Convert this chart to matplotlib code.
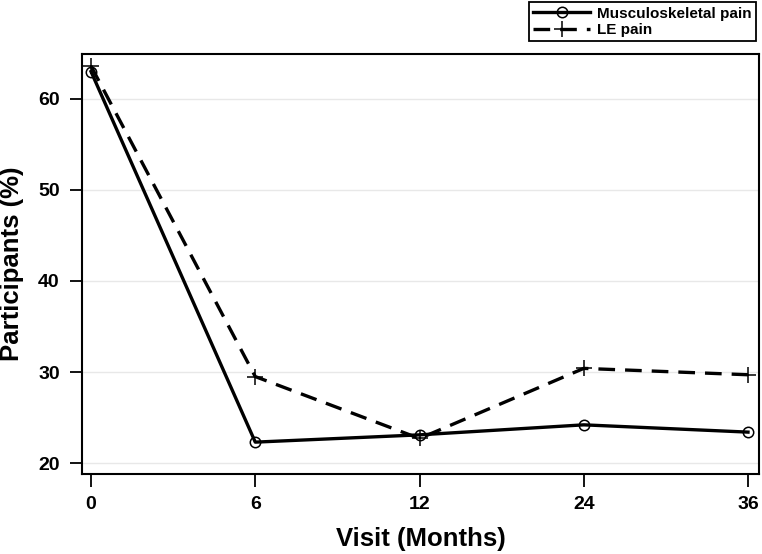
import matplotlib
matplotlib.use("Agg")
import matplotlib.pyplot as plt

visits = ["0", "6", "12", "24", "36"]
musculoskeletal = [63.0, 22.3, 23.1, 24.2, 23.4]
le_pain = [63.6, 29.5, 22.7, 30.4, 29.7]
yticks = [20, 30, 40, 50, 60]

plt.rcParams['font.family'] = ['Liberation Sans', 'DejaVu Sans']
plt.rcParams['font.weight'] = 'bold'
tick_fs, lab_fs, leg_fs = 14, 18.5, 11

fig = plt.figure(figsize=(7.62, 5.54), dpi=100)
ax = fig.add_axes([82 / 762, 1 - 474 / 554, 677 / 762, 420 / 554])

x = list(range(len(visits)))
ax.plot(x, musculoskeletal, color='black', lw=2.4, marker='o', ms=7.5,
        mfc='none', mec='black', mew=1.1, label='Musculoskeletal pain')
ax.plot(x, le_pain, color='black', lw=2.4, ls=(0, (5, 3)), marker='+', ms=11,
        mew=1.1, label='LE pain')

ax.set_xlim(-0.055, 4.067)
ax.set_ylim(18.8, 64.93)
ax.set_xticks(x)
ax.set_xticklabels(visits)
ax.set_yticks(yticks)
ax.grid(axis='y', color='#e8e8e8', lw=1)
ax.set_axisbelow(True)
for s in ax.spines.values():
    s.set_linewidth(1.5)
ax.tick_params(axis='both', length=9, width=1.3, labelsize=tick_fs, pad=7)
for lab in ax.get_xticklabels() + ax.get_yticklabels():
    lab.set_fontweight('bold')

ax.set_xlabel('Visit (Months)', fontsize=lab_fs, fontweight='bold', labelpad=10)
ax.set_ylabel('Participants (%)', fontsize=lab_fs, fontweight='bold', labelpad=10)

leg = ax.legend(loc='upper right', bbox_to_anchor=(756 / 762, 552 / 554),
                bbox_transform=fig.transFigure, borderaxespad=0,
                frameon=True, fancybox=False, edgecolor='black', framealpha=1,
                prop={'weight': 'bold', 'size': leg_fs}, handlelength=3.7,
                borderpad=0.3, labelspacing=0.15, handletextpad=0.45)
leg.get_frame().set_linewidth(1.3)

fig.savefig('out.png', dpi=100)
